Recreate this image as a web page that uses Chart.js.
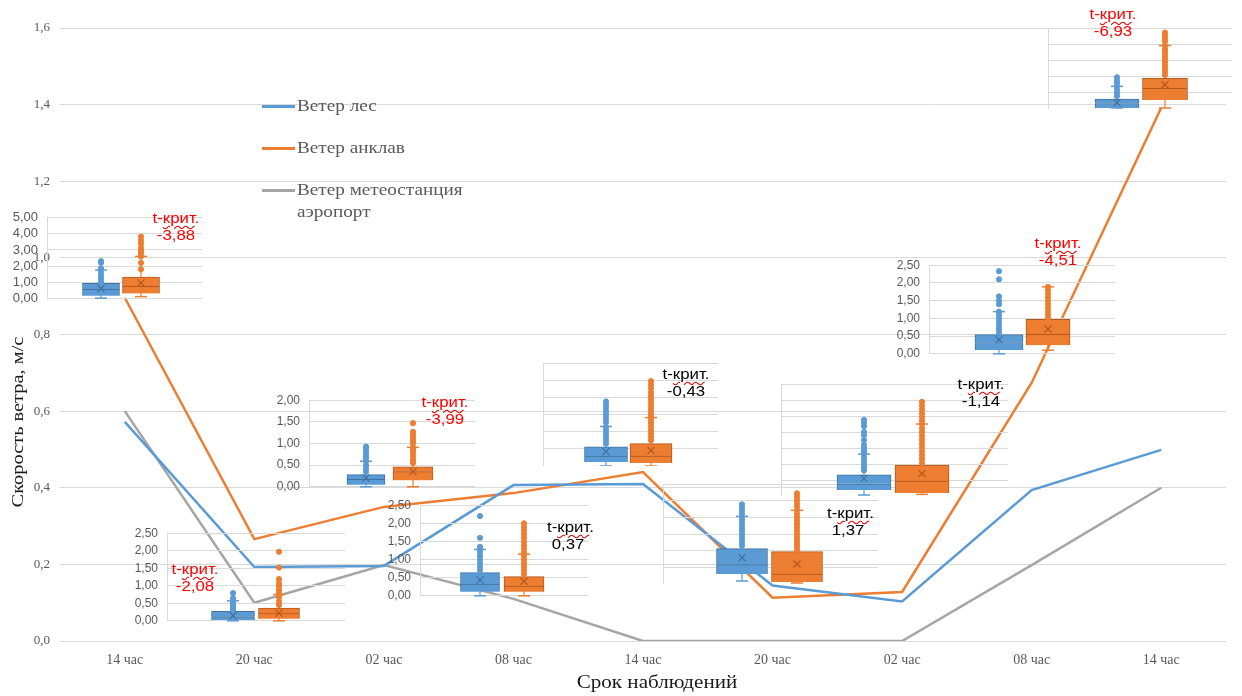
<!DOCTYPE html>
<html>
<head>
<meta charset="utf-8">
<script src="https://cdn.jsdelivr.net/npm/chart.js@4.4.1/dist/chart.umd.min.js"></script>
<style>
body { margin: 0; background: #fff; }
#wrap { position: relative; width: 1242px; height: 696px; overflow: hidden; }
#wrap canvas { position: absolute; }
.tk { position: absolute; font: 14px "Liberation Sans", Arial, sans-serif; line-height: 17px; white-space: nowrap; }
.tk u { text-decoration: underline wavy #e00000; text-decoration-thickness: 1px; text-underline-offset: 2px; }
.lg { position: absolute; left: 262px; font: 16px "Liberation Serif", serif; color: #595959; line-height: 22px; }
.lg i { position: absolute; left: 0; top: 10px; width: 33px; height: 3px; }
.lg span { display: block; margin-left: 35px; transform: scaleX(1.2); transform-origin: 0 50%; white-space: nowrap; }
#ytitle { position: absolute; left: -132px; top: 412px; width: 300px; height: 20px; line-height: 20px;
  text-align: center; font: 17px "Liberation Serif", serif; color: #1a1a1a; transform: rotate(-90deg) scaleX(1.2); }
#xtitle { position: absolute; left: 507px; top: 672px; width: 300px; height: 22px; line-height: 22px;
  text-align: center; font: 18px "Liberation Serif", serif; color: #1a1a1a; transform: scaleX(1.17); }
</style>
</head>
<body>
<div id="wrap">
  <canvas id="main" width="1242" height="696"></canvas>
  <div id="ytitle">Скорость ветра, м/с</div>
  <div id="xtitle">Срок наблюдений</div>
  <div class="lg" style="top:95px"><i style="background:#5b9bd5"></i><span>Ветер лес</span></div>
  <div class="lg" style="top:137px"><i style="background:#ed7d31"></i><span>Ветер анклав</span></div>
  <div class="lg" style="top:179px"><i style="background:#a5a5a5"></i><span>Ветер метеостанция<br>аэропорт</span></div>
</div>
<script>
// main lines
var categories = ['14 час', '20 час', '02 час', '08 час', '14 час', '20 час', '02 час', '08 час', '14 час'];
var windForest = [0.572, 0.193, 0.196, 0.407, 0.41, 0.145, 0.103, 0.394, 0.499];
var windEnclave = [0.896, 0.266, 0.35, 0.386, 0.441, 0.113, 0.128, 0.674, 1.392];
var windAirport = [0.6, 0.1, 0.198, 0.11, 0, 0, 0, 0.198, 0.4];

// box plots, one per observation term: forest (blue) and enclave (orange)
var forestMin  = [0,    0,    0,    0,    0,    0.09, 0.03, 0,    0];
var forestQ1   = [0.16, 0.02, 0.05, 0.11, 0.12, 0.30, 0.19, 0.11, 0.03];
var forestMed  = [0.55, 0.12, 0.17, 0.32, 0.29, 0.58, 0.38, 0.32, 0.17];
var forestQ3   = [0.93, 0.27, 0.28, 0.64, 0.56, 1.06, 0.66, 0.54, 0.31];
var forestMax  = [1.75, 0.57, 0.59, 1.28, 1.15, 2.03, 1.31, 1.19, 0.70];
var forestMean = [0.60, 0.15, 0.20, 0.44, 0.42, 0.79, 0.55, 0.40, 0.20];
var forestPoints = [
  [2.3, 2.2, 1.85, 1.8, 1.6, 1.4, 1.2, 1.0],
  [0.79, 0.65, 0.57, 0.5, 0.45, 0.4, 0.35, 0.3],
  [0.93, 0.88, 0.83, 0.78, 0.72, 0.66, 0.59, 0.5, 0.42, 0.35],
  [2.2, 1.6, 1.35, 1.28, 1.2, 1.1, 1.0, 0.9, 0.8, 0.7],
  [1.88, 1.78, 1.68, 1.58, 1.48, 1.38, 1.28, 1.15, 1.05, 0.95, 0.85, 0.75, 0.65],
  [2.39, 2.3, 2.2, 2.1, 1.95, 1.85, 1.75, 1.65, 1.55, 1.45, 1.35, 1.25, 1.15],
  [2.38, 2.28, 2.18, 2.0, 1.9, 1.75, 1.6, 1.5, 1.4, 1.31, 1.2, 1.1, 1.0, 0.9, 0.8],
  [2.33, 2.1, 1.62, 1.5, 1.4, 1.19, 1.1, 1.0, 0.9, 0.8, 0.7, 0.6],
  [0.98, 0.88, 0.8, 0.7, 0.6, 0.5, 0.4]
];
var enclaveMin  = [0.10, 0,    0,    0,    0,    0.03, 0.05, 0.10, 0.03];
var enclaveQ1   = [0.30, 0.06, 0.15, 0.11, 0.09, 0.06, 0.09, 0.24, 0.28];
var enclaveMed  = [0.74, 0.22, 0.35, 0.27, 0.29, 0.30, 0.47, 0.55, 0.64];
var enclaveQ3   = [1.32, 0.36, 0.46, 0.53, 0.65, 0.97, 0.97, 0.97, 0.95];
var enclaveMax  = [2.60, 0.75, 0.91, 1.15, 1.41, 2.21, 2.25, 1.89, 1.96];
var enclaveMean = [0.95, 0.22, 0.35, 0.40, 0.45, 0.60, 0.70, 0.70, 0.75];
var enclavePoints = [
  [3.83, 3.6, 3.4, 3.15, 2.95, 2.8, 2.6, 2.2, 1.8],
  [1.97, 1.52, 1.19, 1.07, 0.99, 0.88, 0.79, 0.67, 0.55, 0.45],
  [1.47, 1.27, 1.2, 1.13, 1.06, 1.0, 0.91, 0.85, 0.78, 0.7, 0.62, 0.55],
  [2.0, 1.9, 1.8, 1.7, 1.6, 1.5, 1.4, 1.3, 1.2, 1.1, 1.0, 0.9, 0.8, 0.7, 0.6],
  [2.47, 2.37, 2.27, 2.15, 2.05, 1.95, 1.85, 1.75, 1.65, 1.55, 1.45, 1.35, 1.25, 1.15, 1.05, 0.95, 0.85, 0.75],
  [2.72, 2.62, 2.52, 2.42, 2.32, 2.21, 2.1, 2.0, 1.9, 1.8, 1.7, 1.6, 1.5, 1.4, 1.3, 1.2, 1.1, 1.0],
  [2.94, 2.82, 2.7, 2.58, 2.46, 2.35, 2.25, 2.12, 2.0, 1.88, 1.76, 1.64, 1.52, 1.4, 1.28, 1.16, 1.04],
  [1.89, 1.8, 1.7, 1.6, 1.5, 1.4, 1.3, 1.2, 1.1, 1.0],
  [2.36, 2.27, 2.18, 2.09, 1.96, 1.85, 1.75, 1.65, 1.55, 1.45, 1.35, 1.25, 1.15, 1.05]
];
var tKrit = ['-3,88', '-2,08', '-3,99', '0,37', '-0,43', '1,37', '-1,14', '-4,51', '-6,93'];

// where each inset sits on the page (pixels) and how its value axis runs
var insetLayout = [
  {left: 47,   right: 202,  top: 218, bottom: 299, max: 5,   step: 1,   labels: true,  fs: 13, c1: 101,  c2: 141,  w1: 37, w2: 37, tx: 176,  ty: 210, tc: '#ff0000', ta: 'center'},
  {left: 167,  right: 345,  top: 533, bottom: 621, max: 2.5, step: 0.5, labels: true,  fs: 12, c1: 233,  c2: 279,  w1: 43, w2: 41, tx: 195,  ty: 561, tc: '#ff0000', ta: 'center'},
  {left: 309,  right: 475,  top: 400, bottom: 487, max: 2,   step: 0.5, labels: true,  fs: 12, c1: 366,  c2: 413,  w1: 38, w2: 40, tx: 445,  ty: 394, tc: '#ff0000', ta: 'center'},
  {left: 420,  right: 588,  top: 505, bottom: 596, max: 2.5, step: 0.5, labels: true,  fs: 12, c1: 480,  c2: 524,  w1: 39, w2: 40, tx: 547,  ty: 519, tc: '#000000', ta: 'left'},
  {left: 543,  right: 718,  top: 363, bottom: 466, max: 3,   step: 0.5, labels: false, fs: 12, c1: 606,  c2: 651,  w1: 43, w2: 42, tx: 686,  ty: 366, tc: '#000000', ta: 'center'},
  {left: 663,  right: 878,  top: 484, bottom: 584, max: 3,   step: 0.5, labels: false, fs: 12, c1: 742,  c2: 797,  w1: 51, w2: 51, tx: 827,  ty: 505, tc: '#000000', ta: 'left'},
  {left: 781,  right: 1008, top: 384, bottom: 496, max: 3.5, step: 0.5, labels: false, fs: 12, c1: 864,  c2: 922,  w1: 54, w2: 54, tx: 981,  ty: 376, tc: '#000000', ta: 'center'},
  {left: 929,  right: 1115, top: 265, bottom: 354, max: 2.5, step: 0.5, labels: true,  fs: 12, c1: 999,  c2: 1048, w1: 48, w2: 44, tx: 1058, ty: 235, tc: '#ff0000', ta: 'center'},
  {left: 1048, right: 1232, top: 28,  bottom: 109, max: 2.5, step: 0.5, labels: false, fs: 12, c1: 1117, c2: 1165, w1: 44, w2: 45, tx: 1113, ty: 6,   tc: '#ff0000', ta: 'center'}
];

var wrap = document.getElementById('wrap');

new Chart(document.getElementById('main'), {
    type: 'line',
    data: {
        labels: categories,
        datasets: [
            { label: 'Ветер лес', data: windForest, borderColor: '#5b9bd5', borderWidth: 2.5, pointRadius: 0 },
            { label: 'Ветер анклав', data: windEnclave, borderColor: '#ed7d31', borderWidth: 2.5, pointRadius: 0 },
            { label: 'Ветер метеостанция аэропорт', data: windAirport, borderColor: '#a5a5a5', borderWidth: 2.5, pointRadius: 0 }
        ]
    },
    options: {
        responsive: false,
        animation: false,
        events: [],
        layout: { autoPadding: false, padding: { top: 28, right: 16, bottom: 0, left: 0 } },
        plugins: { legend: { display: false }, tooltip: { enabled: false } },
        scales: {
            x: {
                offset: true,
                grid: { display: false, drawTicks: false },
                border: { display: false },
                ticks: { font: { family: 'Liberation Serif', size: 14 }, color: '#595959', padding: 11, maxRotation: 0, autoSkip: false },
                afterFit: function (s) { s.height = 55; }
            },
            y: {
                min: 0,
                max: 1.6,
                ticks: {
                    stepSize: 0.2,
                    font: { family: 'Liberation Serif', size: 13 },
                    color: '#595959',
                    padding: 10,
                    callback: function (v) { return v.toFixed(1).replace('.', ','); }
                },
                grid: { color: '#d9d9d9', drawTicks: false },
                border: { display: false },
                afterFit: function (s) { s.width = 60; }
            }
        }
    }
});

function boxSets(x, w, fill, edge, mn, q1, md, q3, mx, mean, pts) {
    return [
        { type: 'line', data: [{ x: x, y: mn }, { x: x, y: mx }], borderColor: fill, borderWidth: 1.2,
          pointStyle: 'line', pointRadius: 6, pointBorderColor: fill, pointBorderWidth: 1.5, order: 4, clip: false },
        { type: 'bar', data: [{ x: x, y: [q1, md] }], backgroundColor: fill, borderColor: edge, borderWidth: 1,
          barThickness: w, grouped: false, order: 3, clip: false },
        { type: 'bar', data: [{ x: x, y: [md, q3] }], backgroundColor: fill, borderColor: edge, borderWidth: 1,
          barThickness: w, grouped: false, order: 3, clip: false },
        { type: 'scatter', data: pts.map(function (v) { return { x: x, y: v }; }), pointRadius: 2.6,
          backgroundColor: fill, borderColor: fill, order: 1, clip: false },
        { type: 'scatter', data: [{ x: x, y: mean }], pointStyle: 'crossRot', pointRadius: 5,
          borderColor: edge, borderWidth: 1.2, order: 0, clip: false }
    ];
}

function insetConfig(i) {
    var L = insetLayout[i];
    var unit = L.c2 - L.c1;
    var sets = boxSets(0, L.w1, '#5b9bd5', '#41719c', forestMin[i], forestQ1[i], forestMed[i], forestQ3[i],
                       forestMax[i], forestMean[i], forestPoints[i])
        .concat(boxSets(1, L.w2, '#ed7d31', '#b4581c', enclaveMin[i], enclaveQ1[i], enclaveMed[i], enclaveQ3[i],
                        enclaveMax[i], enclaveMean[i], enclavePoints[i]));
    return {
        type: 'bar',
        data: { datasets: sets },
        options: {
            responsive: false,
            maintainAspectRatio: false,
            animation: false,
            events: [],
            layout: { autoPadding: false, padding: 0 },
            plugins: { legend: { display: false }, tooltip: { enabled: false } },
            scales: {
                x: {
                    type: 'linear',
                    display: false,
                    offset: false,
                    bounds: 'data',
                    min: -(L.c1 - L.left) / unit,
                    max: 1 + (L.right - L.c2) / unit
                },
                y: {
                    min: 0,
                    max: L.max,
                    ticks: {
                        display: L.labels,
                        autoSkip: false,
                        stepSize: L.step,
                        font: { family: 'Liberation Sans', size: L.fs },
                        color: '#595959',
                        padding: 9,
                        callback: function (v) { return v.toFixed(2).replace('.', ','); }
                    },
                    grid: { color: '#d9d9d9', drawTicks: false },
                    border: { color: '#d9d9d9' },
                    afterFit: function (s) { s.width = 44; }
                }
            }
        }
    };
}

function drawInset(i) {
    var L = insetLayout[i];
    var w = L.right - L.left, h = L.bottom - L.top;

    // first pass: find how much room the axis takes around the plot area
    var c = document.createElement('canvas');
    c.width = w + 60;
    c.height = h + 30;
    wrap.appendChild(c);
    var probe = new Chart(c.getContext('2d'), insetConfig(i));
    var a = probe.chartArea;
    var offL = a.left, offT = a.top, offR = c.width - a.right, offB = c.height - a.bottom;
    probe.destroy();
    wrap.removeChild(c);

    // second pass: size the canvas so the plot area lands where the inset sits
    c = document.createElement('canvas');
    c.width = offL + w + offR;
    c.height = offT + h + offB;
    c.style.left = (L.left - offL) + 'px';
    c.style.top = (L.top - offT) + 'px';
    wrap.appendChild(c);
    new Chart(c.getContext('2d'), insetConfig(i));

    var t = document.createElement('div');
    t.className = 'tk';
    t.style.color = L.tc;
    t.style.top = L.ty + 'px';
    t.style.textAlign = L.ta;
    if (L.ta === 'center') {
        t.style.left = (L.tx - 40) + 'px';
        t.style.width = '80px';
        t.style.transform = 'scaleX(1.2)';
    } else {
        t.style.left = L.tx + 'px';
        t.style.transform = 'scaleX(1.2)';
        t.style.transformOrigin = '0 50%';
    }
    t.innerHTML = 't-<u>крит</u>.<br>' + (L.ta === 'left' ? '&nbsp;' : '') + tKrit[i];
    wrap.appendChild(t);
}

for (var i = 0; i < insetLayout.length; i++) {
    drawInset(i);
}
</script>
</body>
</html>
